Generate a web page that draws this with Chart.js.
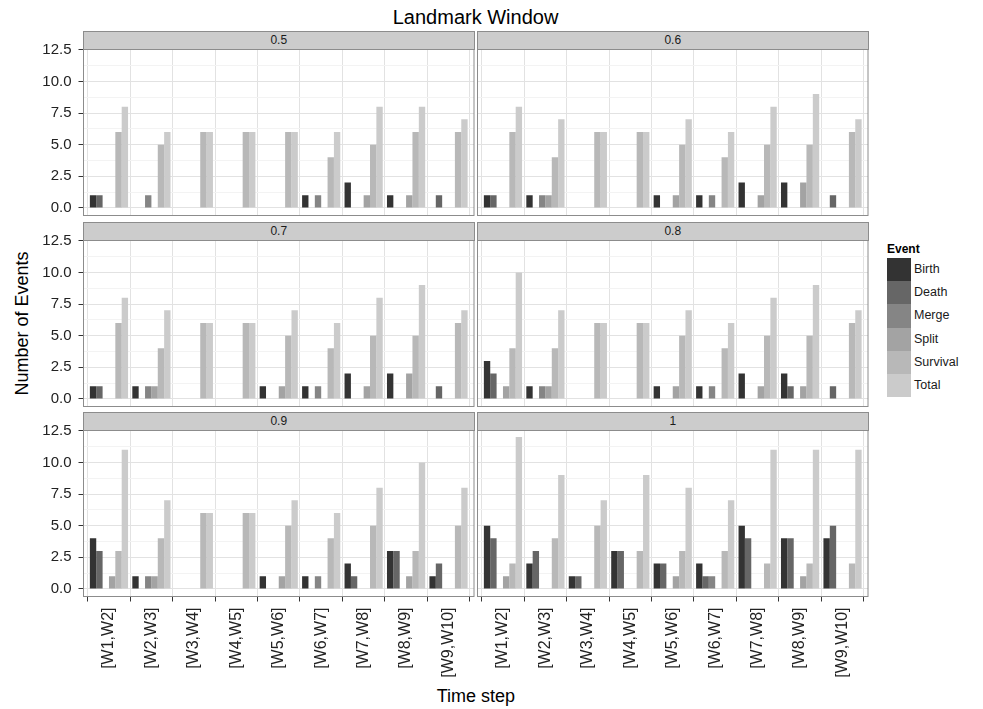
<!DOCTYPE html>
<html>
<head>
<meta charset="utf-8">
<script src="https://cdn.jsdelivr.net/npm/chart.js@4.4.1/dist/chart.umd.min.js"></script>
<style>
  html, body { margin: 0; padding: 0; background: #ffffff; }
  body { width: 983px; height: 709px; position: relative; overflow: hidden;
         font-family: "Liberation Sans", Arial, sans-serif; color: #000; }
  canvas { position: absolute; }
  .strip { position: absolute; box-sizing: border-box; background: #cccccc;
           border: 1px solid #8c8c8c; text-align: center; font-size: 12px;
           color: #1a1a1a; line-height: 16px; }
  .title { position: absolute; font-size: 20px; white-space: nowrap; }
  .axis-title { position: absolute; font-size: 18px; white-space: nowrap; }
  .legend-title { position: absolute; font-size: 12px; font-weight: bold; }
  .legend-key { position: absolute; width: 24px; height: 23.2px; }
  .legend-label { position: absolute; font-size: 12.5px; line-height: 23px; color: #1a1a1a; white-space: nowrap; }
</style>
</head>
<body>
<div class="title" id="mainTitle">Landmark Window</div>
<div class="axis-title" id="yTitle">Number of Events</div>
<div class="axis-title" id="xTitle">Time step</div>
<div id="legend"></div>

<script>
// ---- data -------------------------------------------------------------
const timeSteps = ["[W1,W2]", "[W2,W3]", "[W3,W4]", "[W4,W5]", "[W5,W6]",
                   "[W6,W7]", "[W7,W8]", "[W8,W9]", "[W9,W10]"];
const windowSizes = ["0.5", "0.6", "0.7", "0.8", "0.9", "1"];
const eventTypes = ["Birth", "Death", "Merge", "Split", "Survival", "Total"];
const eventColors = ["#333333", "#666666", "#858585", "#a3a3a3", "#b8b8b8", "#cbcbcb"];
const yMajorTicks = [0, 2.5, 5, 7.5, 10, 12.5];

// one row per window size (0.5, 0.6, 0.7, 0.8, 0.9, 1), one value per time step
const birth = [
  [1, 0, 0, 0, 0, 1, 2, 1, 0],
  [1, 1, 0, 0, 1, 1, 2, 2, 0],
  [1, 1, 0, 0, 1, 1, 2, 2, 0],
  [3, 1, 0, 0, 1, 1, 2, 2, 0],
  [4, 1, 0, 0, 1, 1, 2, 3, 1],
  [5, 2, 1, 3, 2, 2, 5, 4, 4]
];
const death = [
  [1, 0, 0, 0, 0, 0, 0, 0, 1],
  [1, 0, 0, 0, 0, 0, 0, 0, 1],
  [1, 0, 0, 0, 0, 0, 0, 0, 1],
  [2, 0, 0, 0, 0, 0, 0, 1, 1],
  [3, 0, 0, 0, 0, 0, 1, 3, 2],
  [4, 3, 1, 3, 2, 1, 4, 4, 5]
];
const merge = [
  [0, 1, 0, 0, 0, 1, 0, 0, 0],
  [0, 1, 0, 0, 0, 1, 0, 0, 0],
  [0, 1, 0, 0, 0, 1, 0, 0, 0],
  [0, 1, 0, 0, 0, 1, 0, 0, 0],
  [0, 1, 0, 0, 0, 1, 0, 0, 0],
  [0, 0, 0, 0, 0, 1, 0, 0, 0]
];
const split = [
  [0, 0, 0, 0, 0, 0, 1, 1, 0],
  [0, 1, 0, 0, 1, 0, 1, 2, 0],
  [0, 1, 0, 0, 1, 0, 1, 2, 0],
  [1, 1, 0, 0, 1, 0, 1, 1, 0],
  [1, 1, 0, 0, 1, 0, 0, 1, 0],
  [1, 0, 0, 0, 1, 0, 0, 1, 0]
];
const survival = [
  [6, 5, 6, 6, 6, 4, 5, 6, 6],
  [6, 4, 6, 6, 5, 4, 5, 5, 6],
  [6, 4, 6, 6, 5, 4, 5, 5, 6],
  [4, 4, 6, 6, 5, 4, 5, 5, 6],
  [3, 4, 6, 6, 5, 4, 5, 3, 5],
  [2, 4, 5, 3, 3, 3, 2, 2, 2]
];
const total = [
  [8, 6, 6, 6, 6, 6, 8, 8, 7],
  [8, 7, 6, 6, 7, 6, 8, 9, 7],
  [8, 7, 6, 6, 7, 6, 8, 9, 7],
  [10, 7, 6, 6, 7, 6, 8, 9, 7],
  [11, 7, 6, 6, 7, 6, 8, 10, 8],
  [12, 9, 7, 9, 8, 7, 11, 11, 11]
];
const seriesByEvent = [birth, death, merge, split, survival, total];

// ---- layout -------------------------------------------------------------
const colLeft = [83.5, 477.5];   // plot area left edge per facet column
const plotW = 390.5;
const rowTop = [48.5, 239.5, 429.5]; // plot area top edge per facet row
const plotH = 167;
const stripH = 18;
const FONT = "'Liberation Sans', Arial, sans-serif";
const MAJOR_GRID = "#e2e2e2";
const MINOR_GRID = "#f3f3f3";
const BORDER = "#8c8c8c";

// minor gridlines sit halfway between major ticks
const yGridValues = [];
yMajorTicks.forEach((v, i) => {
  yGridValues.push(v);
  if (i < yMajorTicks.length - 1) yGridValues.push((v + yMajorTicks[i + 1]) / 2);
});
const isMajor = v => yMajorTicks.some(m => Math.abs(m - v) < 1e-9);

// keep each plot area exactly where the facet grid puts it
function pinScale(s, size) {
  if (s.isHorizontal()) s.height = size; else s.width = size;
  s.paddingTop = 0; s.paddingBottom = 0; s.paddingLeft = 0; s.paddingRight = 0;
}

const panelBorder = {
  id: "panelBorder",
  afterDatasetsDraw(chart) {
    const a = chart.chartArea, ctx = chart.ctx;
    ctx.save();
    ctx.strokeStyle = BORDER;
    ctx.lineWidth = 1;
    ctx.strokeRect(a.left, a.top, a.right - a.left, a.bottom - a.top);
    ctx.restore();
  }
};

function makePanel(p) {
  const r = Math.floor(p / 2), c = p % 2;
  const leftCol = c === 0, bottomRow = r === 2;

  // canvas placed on whole pixels, plot area offset by padding
  const canvasLeft = leftCol ? 0 : 474;
  const yAxisW = leftCol ? 80 : 0;
  const padLeft = colLeft[c] - canvasLeft - yAxisW;
  const canvasTop = Math.floor(rowTop[r]) - 12;
  const padTop = rowTop[r] - canvasTop;
  const canvasW = Math.ceil(colLeft[c] + plotW) + 2 - canvasLeft;
  const padRight = canvasLeft + canvasW - (colLeft[c] + plotW);
  const canvasH = bottomRow ? 709 - canvasTop : Math.ceil(rowTop[r] + plotH) + 10 - canvasTop;
  const xAxisH = bottomRow ? canvasH - padTop - plotH : 0;
  const padBottom = bottomRow ? 0 : canvasH - padTop - plotH;

  const cv = document.createElement("canvas");
  cv.width = canvasW; cv.height = canvasH;
  cv.style.left = canvasLeft + "px"; cv.style.top = canvasTop + "px";
  cv.style.width = canvasW + "px"; cv.style.height = canvasH + "px";
  document.body.appendChild(cv);

  // facet strip
  const strip = document.createElement("div");
  strip.className = "strip";
  strip.style.left = colLeft[c] - 0.5 + "px";
  strip.style.top = rowTop[r] - stripH + "px";
  strip.style.width = plotW + 1 + "px";
  strip.style.height = stripH + 1 + "px";
  strip.textContent = windowSizes[p];
  document.body.appendChild(strip);

  const datasets = eventTypes.map((name, k) => ({
    label: name,
    data: seriesByEvent[k][p].map((v, i) => ({ x: i + 1, y: v })),
    backgroundColor: eventColors[k],
    borderWidth: 0,
    categoryPercentage: 0.9,
    barPercentage: 1.0
  }));

  new Chart(cv, {
    type: "bar",
    data: { datasets },
    plugins: [panelBorder],
    options: {
      responsive: false,
      animation: false,
      devicePixelRatio: 1,
      layout: { padding: { left: padLeft, right: padRight, top: padTop, bottom: padBottom } },
      plugins: { legend: { display: false }, tooltip: { enabled: false }, title: { display: false } },
      scales: {
        x: {
          type: "linear",
          min: 0.4, max: 9.6,
          offset: false,
          bounds: "data",
          afterBuildTicks: s => { s.ticks = timeSteps.map((_, i) => ({ value: i + 1 })); },
          afterFit: s => pinScale(s, xAxisH),
          border: { display: false },
          grid: {
            color: MAJOR_GRID, lineWidth: 1,
            drawTicks: bottomRow, tickLength: 5, tickColor: "#333333", tickWidth: 1
          },
          ticks: {
            display: bottomRow, autoSkip: false,
            maxRotation: 90, minRotation: 90, padding: 6,
            color: "#222222", font: { family: FONT, size: 16 },
            callback: v => timeSteps[Math.round(v) - 1]
          }
        },
        y: {
          type: "linear",
          min: -0.6, max: 12.6,
          bounds: "data",
          afterBuildTicks: s => { s.ticks = yGridValues.map(v => ({ value: v })); },
          afterFit: s => pinScale(s, yAxisW),
          border: { display: false },
          grid: {
            color: ctx => (ctx.tick && isMajor(ctx.tick.value)) ? MAJOR_GRID : MINOR_GRID,
            lineWidth: 1,
            drawTicks: leftCol, tickLength: 5, tickWidth: 1,
            tickColor: ctx => (ctx.tick && isMajor(ctx.tick.value)) ? "#333333" : "rgba(0,0,0,0)"
          },
          ticks: {
            display: leftCol, autoSkip: false, padding: 7,
            color: "#222222", font: { family: FONT, size: 15 },
            callback: v => isMajor(v) ? v.toFixed(1) : ""
          }
        }
      }
    }
  });
}

for (let p = 0; p < windowSizes.length; p++) makePanel(p);

// ---- titles ----------------------------------------------------------------
const plotsCenterX = (colLeft[0] + colLeft[1] + plotW) / 2;
const mainTitle = document.getElementById("mainTitle");
mainTitle.style.left = plotsCenterX - mainTitle.offsetWidth / 2 + "px";
mainTitle.style.top = "6px";

const xTitle = document.getElementById("xTitle");
xTitle.style.left = plotsCenterX - xTitle.offsetWidth / 2 + "px";
xTitle.style.top = "686px";

const yTitle = document.getElementById("yTitle");
const panelsMidY = (rowTop[0] - stripH + rowTop[2] + plotH) / 2 + 10;
yTitle.style.left = 22 - yTitle.offsetWidth / 2 + "px";
yTitle.style.top = panelsMidY - yTitle.offsetHeight / 2 + "px";
yTitle.style.transform = "rotate(-90deg)";

// ---- legend ----------------------------------------------------------------
const legend = document.getElementById("legend");
const lgX = 887, lgY = 258, keyH = 23.2;
const lt = document.createElement("div");
lt.className = "legend-title";
lt.style.left = lgX + "px"; lt.style.top = lgY - 16 + "px";
lt.textContent = "Event";
legend.appendChild(lt);
eventTypes.forEach((name, k) => {
  const key = document.createElement("div");
  key.className = "legend-key";
  key.style.left = lgX + "px";
  key.style.top = lgY + k * keyH + "px";
  key.style.background = eventColors[k];
  legend.appendChild(key);
  const lab = document.createElement("div");
  lab.className = "legend-label";
  lab.style.left = lgX + 27 + "px";
  lab.style.top = lgY + k * keyH + "px";
  lab.textContent = name;
  legend.appendChild(lab);
});
</script>
</body>
</html>
